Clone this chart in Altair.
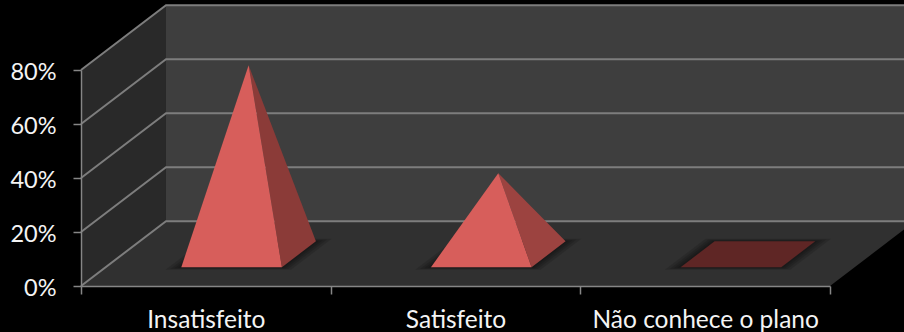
import altair as alt
import pandas as pd

# Chart content
categories = ["Insatisfeito", "Satisfeito", "Não conhece o plano"]
values = [0.70, 0.30, 0.0]
y_ticks = [0.0, 0.2, 0.4, 0.6, 0.8]
x_ticks = [0, 1, 2, 3]

# Palette
wall_back = "#3e3e3e"
wall_left = "#292929"
floor = "#303030"
grid = "#7d7d7d"
axis_grey = "#868686"
text_col = "#f4f4f4"
front_face = "#d75e5b"
side_faces = ["#8b3b38", "#9c4340", "#5f2625"]
flat_face = "#5f2625"

# Oblique projection of the depth axis, in units of the x and y scales
SHIFT_X = 0.3404
SHIFT_Y = 0.240

# Pyramid footprint inside each category slot and along the depth axis
BASE_C = (0.303, 0.706)
BASE_D = (0.29, 0.69)


def project(c, v, d):
    return c + SHIFT_X * d, v + SHIFT_Y * d


def polygon(vertices):
    """Rows for an area mark that fills a convex face given as (c, v, d) corners."""
    pts = [project(*p) for p in vertices]
    edges = list(zip(pts, pts[1:] + pts[:1]))
    rows = []
    for x in sorted({round(p[0], 6) for p in pts}):
        ys = [p[1] for p in pts if abs(p[0] - x) < 1e-6]
        for (x0, y0), (x1, y1) in edges:
            if min(x0, x1) < x < max(x0, x1):
                ys.append(y0 + (y1 - y0) * (x - x0) / (x1 - x0))
        rows.append({"px": x, "top": max(ys), "bottom": min(ys)})
    return pd.DataFrame(rows)


x_scale = alt.Scale(domain=[0, 3], nice=False, zero=False)
y_scale = alt.Scale(domain=[0, 0.8], nice=False, zero=False)

# Category labels sit between the ticks, so the axis carries both positions
x_axis_values = sorted(x_ticks + [i + 0.5 for i in range(len(categories))])
label_expr = " : ".join(
    f"datum.value == {i + 0.5} ? '{name}'" for i, name in enumerate(categories)
) + " : ''"

x_axis = alt.Axis(
    values=x_axis_values,
    labelExpr=label_expr,
    title=None,
    grid=False,
    domainColor=axis_grey,
    domainWidth=1.5,
    tickColor=axis_grey,
    tickWidth=1.5,
    tickSize=8,
    tickOpacity={"condition": {"test": "datum.value % 1 == 0", "value": 1}, "value": 0},
    labelColor=text_col,
    labelFont="Lato",
    labelFontSize=24.5,
    labelLimit=400,
    labelPadding=14,
    labelOverlap=False,
    labelFlush=False,
    labelBound=False,
    zindex=1,
)
y_axis = alt.Axis(
    values=y_ticks,
    format=".0%",
    title=None,
    grid=False,
    domainColor=axis_grey,
    domainWidth=1.5,
    tickColor=axis_grey,
    tickWidth=1.5,
    tickSize=8,
    labelColor=text_col,
    labelFont="Lato",
    labelFontSize=23.5,
    labelPadding=17,
    labelOffset=2,
    labelOverlap=False,
    labelFlush=False,
    labelBound=False,
    zindex=1,
)


def face(vertices, color, opacity=1.0):
    return alt.Chart(polygon(vertices)).mark_area(
        color=color, opacity=opacity, orient="vertical"
    ).encode(
        x=alt.X("px:Q", scale=x_scale, axis=x_axis),
        y=alt.Y("top:Q", scale=y_scale, axis=y_axis),
        y2="bottom:Q",
    )


top = y_ticks[-1]
layers = [
    face([(0, 0, 1), (3, 0, 1), (3, top, 1), (0, top, 1)], wall_back),
    face([(0, 0, 0), (0, 0, 1), (0, top, 1), (0, top, 0)], wall_left),
    face([(0, 0, 0), (3, 0, 0), (3, 0, 1), (0, 0, 1)], floor),
]

# Gridlines run along the left wall, then across the back wall
grid_rows = []
for t in y_ticks:
    for i, (c, d) in enumerate([(0, 0), (0, 1), (3, 1)]):
        px, py = project(c, t, d)
        grid_rows.append({"tick": t, "step": i, "px": px, "py": py})
layers.append(
    alt.Chart(pd.DataFrame(grid_rows)).mark_line(color=grid, strokeWidth=2).encode(
        x=alt.X("px:Q", scale=x_scale, axis=x_axis),
        y=alt.Y("py:Q", scale=y_scale, axis=y_axis),
        detail="tick:N",
        order="step:Q",
    )
)

# Pyramids, each with a soft shadow built from widening translucent footprints
for i, value in enumerate(values):
    c0, c1 = i + BASE_C[0], i + BASE_C[1]
    d0, d1 = BASE_D
    cm, dm = (c0 + c1) / 2, (d0 + d1) / 2
    for pad in (0.05, 0.035, 0.022, 0.01):
        layers.append(
            face(
                [
                    (c0 - pad, 0, d0 - pad * 0.8),
                    (c1 + pad, 0, d0 - pad * 0.8),
                    (c1 + pad, 0, d1 + pad * 0.8),
                    (c0 - pad, 0, d1 + pad * 0.8),
                ],
                "#000000",
                0.13,
            )
        )
    if value == 0:
        layers.append(face([(c0, 0, d0), (c1, 0, d0), (c1, 0, d1), (c0, 0, d1)], flat_face))
    else:
        layers.append(face([(c1, 0, d0), (c1, 0, d1), (cm, value, dm)], side_faces[i]))
        layers.append(face([(c0, 0, d0), (c1, 0, d0), (cm, value, dm)], front_face))

chart = (
    alt.layer(*layers)
    .properties(
        width=749,
        height=216,
        background="#000000",
        padding={"left": 81, "top": 70, "right": 74, "bottom": 46},
        autosize=alt.AutoSizeParams(type="none"),
    )
    .configure_view(stroke=None)
)

chart.save("out.html", embed_options={"renderer": "svg", "actions": False})
